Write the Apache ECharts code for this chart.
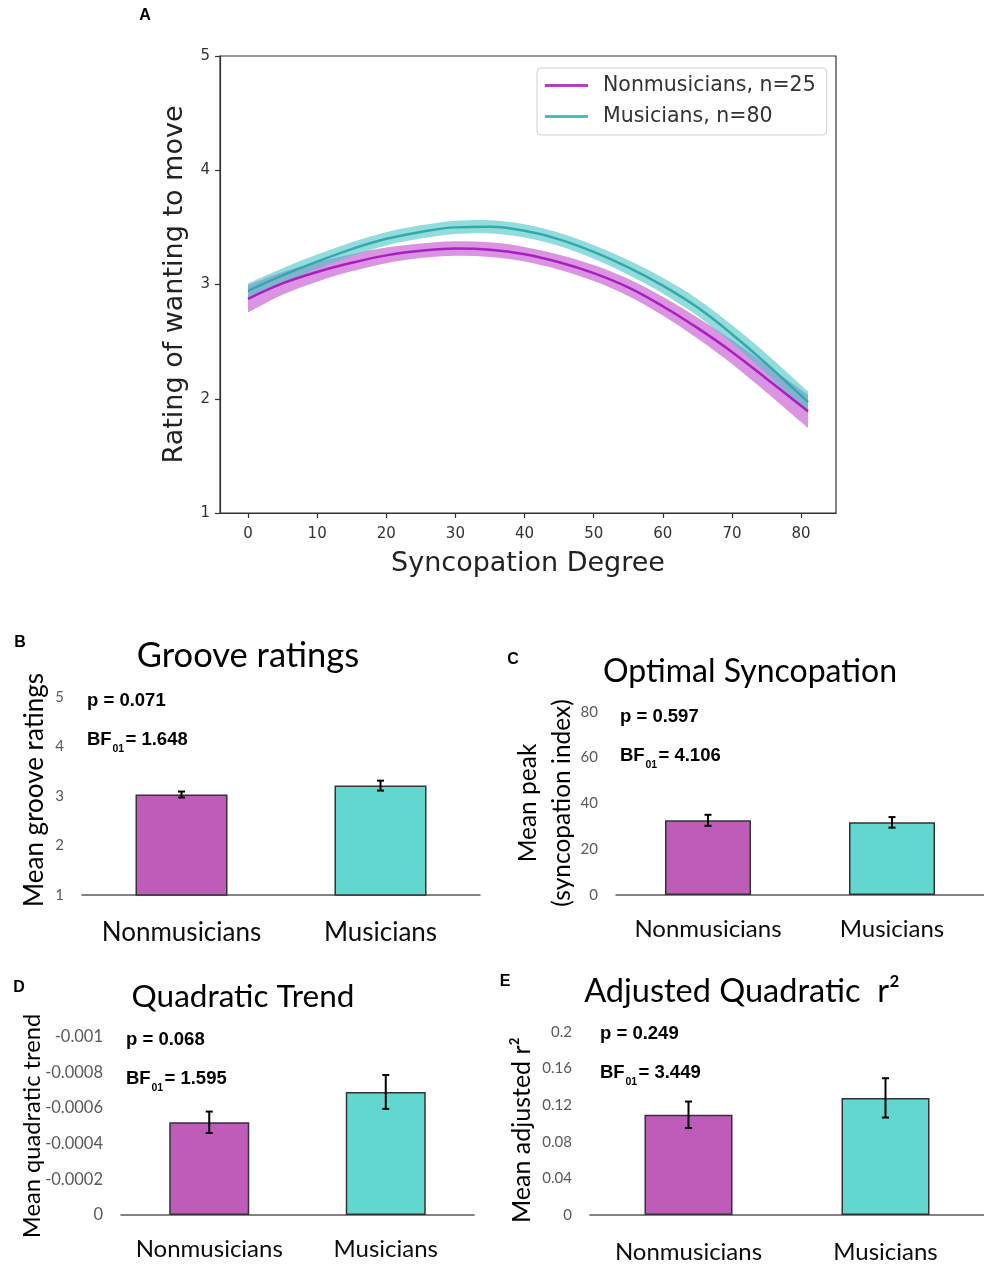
<!DOCTYPE html>
<html><head><meta charset="utf-8">
<script src="https://cdn.jsdelivr.net/npm/echarts@6/dist/echarts.min.js"></script>
<style>html,body{margin:0;padding:0;background:#fff}#c{width:984px;height:1264px}</style>
</head><body><div id="c"></div>
<script>
// ---- Panel A data ----
const syncX  = [0, 5, 10, 15, 20, 25, 30, 35, 40, 45, 50, 55, 60, 65, 70, 75, 81];
const nmMean = [2.875, 3.01, 3.11, 3.19, 3.255, 3.295, 3.315, 3.305, 3.265, 3.195, 3.10, 2.975, 2.81, 2.62, 2.41, 2.175, 1.89];
const nmCI   = [0.12, 0.10, 0.085, 0.075, 0.068, 0.064, 0.064, 0.064, 0.064, 0.066, 0.07, 0.075, 0.082, 0.092, 0.105, 0.12, 0.145];
const muMean = [2.945, 3.08, 3.20, 3.31, 3.40, 3.46, 3.50, 3.505, 3.47, 3.395, 3.285, 3.15, 2.99, 2.80, 2.565, 2.305, 1.97];
const muCI   = [0.065, 0.063, 0.062, 0.06, 0.058, 0.058, 0.058, 0.058, 0.058, 0.058, 0.06, 0.064, 0.068, 0.074, 0.08, 0.087, 0.095];
const xTicks = [0, 10, 20, 30, 40, 50, 60, 70, 80];
const legendNames = ['Nonmusicians, n=25', 'Musicians, n=80'];

// ---- Bar panels ----
const groups = ['Nonmusicians', 'Musicians'];
const grooveMean = [3.03, 3.21];    const grooveErr = [0.06, 0.10];
const peakMean   = [32.6, 31.7];    const peakErr   = [2.4, 2.3];
const quadMean   = [-0.00052, -0.00069]; const quadErr = [0.00006, 0.000095];
const r2Mean     = [0.1095, 0.128]; const r2Err     = [0.0145, 0.0215];
const stats = [
  {p: 'p = 0.071', bf: '= 1.648'},
  {p: 'p = 0.597', bf: '= 4.106'},
  {p: 'p = 0.068', bf: '= 1.595'},
  {p: 'p = 0.249', bf: '= 3.449'}
];

const NM_C = '#bf5bb9', MU_C = '#62d7cf';
const chart = echarts.init(document.getElementById('c'), null, {renderer: 'canvas'});

// Catmull-Rom curve through pixel points -> SVG path segments
function crPath(pts) {
  let d = '';
  for (let i = 0; i < pts.length - 1; i++) {
    const p0 = pts[Math.max(i - 1, 0)], p1 = pts[i], p2 = pts[i + 1], p3 = pts[Math.min(i + 2, pts.length - 1)];
    const c1 = [p1[0] + (p2[0] - p0[0]) / 6, p1[1] + (p2[1] - p0[1]) / 6];
    const c2 = [p2[0] - (p3[0] - p1[0]) / 6, p2[1] - (p3[1] - p1[1]) / 6];
    d += ' C' + c1[0] + ',' + c1[1] + ' ' + c2[0] + ',' + c2[1] + ' ' + p2[0] + ',' + p2[1];
  }
  return d;
}
function band(xs, mean, ci, color, z) {
  return {
    type: 'custom', xAxisIndex: 0, yAxisIndex: 0, silent: true, z: z,
    data: [[xs[0], mean[0]]],
    renderItem: function (params, api) {
      const up = [], lo = [];
      for (let i = 0; i < xs.length; i++) up.push(api.coord([xs[i], mean[i] + ci[i]]));
      for (let i = xs.length - 1; i >= 0; i--) lo.push(api.coord([xs[i], mean[i] - ci[i]]));
      const d = 'M' + up[0][0] + ',' + up[0][1] + crPath(up) + ' L' + lo[0][0] + ',' + lo[0][1] + crPath(lo) + ' Z';
      return {type: 'path', shape: {pathData: d}, style: {fill: color}};
    }
  };
}
function errBars(idx, means, errs) {
  return {
    type: 'custom', xAxisIndex: idx, yAxisIndex: idx, silent: true, z: 5,
    data: means.map((m, i) => [i, m, errs[i]]),
    renderItem: function (params, api) {
      const i = api.value(0), m = api.value(1), e = api.value(2);
      const top = api.coord([i, m + e]), bot = api.coord([i, m - e]);
      const x = top[0], cap = 3.5;
      const st = {stroke: '#000', lineWidth: 2};
      return {type: 'group', children: [
        {type: 'line', shape: {x1: x, y1: top[1], x2: x, y2: bot[1]}, style: st},
        {type: 'line', shape: {x1: x - cap, y1: top[1], x2: x + cap, y2: top[1]}, style: st},
        {type: 'line', shape: {x1: x - cap, y1: bot[1], x2: x + cap, y2: bot[1]}, style: st}
      ]};
    }
  };
}
function bars(idx, means, width) {
  return {
    type: 'bar', xAxisIndex: idx, yAxisIndex: idx, barWidth: width, silent: true,
    data: means.map((v, i) => ({value: v, itemStyle: {color: i === 0 ? NM_C : MU_C}})),
    itemStyle: {borderColor: '#333', borderWidth: 1.5}
  };
}
function catAxis(idx, size, margin) {
  return {
    type: 'category', gridIndex: idx, data: groups,
    axisLine: {show: true, lineStyle: {color: '#595959', width: 1.5}},
    axisTick: {show: false},
    axisLabel: {interval: 0, hideOverlap: false, fontFamily: 'Lato', fontSize: size, color: '#0d0d0d', margin: margin}
  };
}
function valAxis(idx, min, max, interval, inverse, size) {
  return {
    type: 'value', gridIndex: idx, min: min, max: max, interval: interval, inverse: !!inverse,
    axisLine: {show: false}, axisTick: {show: false}, splitLine: {show: false},
    axisLabel: {fontFamily: 'Lato', fontSize: size || 15, color: '#595959', margin: 18,
      formatter: v => String(+(+v).toFixed(4))}
  };
}
function T(x, y, text, size, opt) {
  opt = opt || {};
  return {type: 'text', x: x, y: y, rotation: opt.rot || 0, silent: true,
    style: {text: text, fontSize: size, fontFamily: opt.family || 'Lato', fontWeight: opt.weight || 'normal',
      fill: opt.color || '#000', align: opt.align || 'center', verticalAlign: 'middle'}};
}
function statText(x, y, s) {
  const b = {family: 'Liberation Sans', weight: 'bold', align: 'left'};
  return [
    T(x, y, s.p, 18.5, b),
    T(x, y + 39, 'BF', 18.5, b),
    T(x + 25.5, y + 48, '01', 10.5, b),
    T(x + 38.5, y + 39, s.bf, 18.5, b)
  ];
}

const option = {
  animation: false,
  backgroundColor: '#fff',
  grid: [
    {left: 220, top: 56, width: 616, height: 457, show: true, borderColor: '#333', borderWidth: 1.2, backgroundColor: 'transparent'},
    {left: 82, top: 697, width: 398, height: 198},
    {left: 616, top: 711.7, width: 368, height: 183.3},
    {left: 121, top: 1036.7, width: 353, height: 178.3},
    {left: 590, top: 1032, width: 394, height: 185}
  ],
  xAxis: [
    {type: 'value', gridIndex: 0, min: -4.05, max: 85.05,
      axisLine: {show: true, onZero: false, lineStyle: {color: '#333', width: 1.2}},
      axisTick: {show: true, customValues: xTicks, length: 5, lineStyle: {color: '#333', width: 1.2}},
      axisLabel: {customValues: xTicks, fontFamily: 'DejaVu Sans', fontSize: 15, color: '#333', margin: 14},
      splitLine: {show: false},
      name: 'Syncopation Degree', nameLocation: 'middle', nameGap: 37,
      nameTextStyle: {fontFamily: 'DejaVu Sans', fontSize: 27, color: '#222'}},
    catAxis(1, 26, 25), catAxis(2, 24, 22), catAxis(3, 24, 22), catAxis(4, 24, 25)
  ],
  yAxis: [
    {type: 'value', gridIndex: 0, min: 1, max: 5, interval: 1,
      axisLine: {show: true, onZero: false, lineStyle: {color: '#333', width: 1.2}},
      axisTick: {show: true, length: 5, lineStyle: {color: '#333', width: 1.2}},
      axisLabel: {fontFamily: 'DejaVu Sans', fontSize: 15, color: '#333', margin: 10},
      splitLine: {show: false},
      name: 'Rating of wanting to move', nameLocation: 'middle', nameGap: 32,
      nameTextStyle: {fontFamily: 'DejaVu Sans', fontSize: 27, color: '#222'}},
    valAxis(1, 1, 5, 1),
    valAxis(2, 0, 80, 20),
    valAxis(3, -0.001, 0, 0.0002, true, 16.5),
    valAxis(4, 0, 0.2, 0.04)
  ],
  legend: {
    show: true, orient: 'vertical', left: 537, top: 68,
    data: legendNames, icon: 'rect', itemWidth: 43, itemHeight: 3, itemGap: 8,
    backgroundColor: '#fff', borderColor: '#d0d0d0', borderWidth: 1, borderRadius: 4,
    padding: [6, 11, 7, 8],
    textStyle: {fontFamily: 'DejaVu Sans', fontSize: 20.5, color: '#333', lineHeight: 23, padding: [0, 0, 0, 10]}
  },
  series: [
    band(syncX, nmMean, nmCI, 'rgba(190,60,200,0.55)', 1),
    band(syncX, muMean, muCI, 'rgba(72,196,196,0.6)', 1),
    {type: 'line', name: legendNames[0], xAxisIndex: 0, yAxisIndex: 0, smooth: 0.4, symbol: 'none', z: 3,
      data: syncX.map((x, i) => [x, nmMean[i]]), lineStyle: {color: '#a91fbf', width: 2.5}, itemStyle: {color: '#b23fc8'}},
    {type: 'line', name: legendNames[1], xAxisIndex: 0, yAxisIndex: 0, smooth: 0.4, symbol: 'none', z: 3,
      data: syncX.map((x, i) => [x, muMean[i]]), lineStyle: {color: '#35a9a9', width: 2.5}, itemStyle: {color: '#45c0c0'}},
    bars(1, grooveMean, 92), errBars(1, grooveMean, grooveErr),
    bars(2, peakMean, 86), errBars(2, peakMean, peakErr),
    bars(3, quadMean, 80), errBars(3, quadMean, quadErr),
    bars(4, r2Mean, 88), errBars(4, r2Mean, r2Err)
  ],
  graphic: [
    T(145, 16, 'A', 16, {family: 'Liberation Sans', weight: 'bold'}),
    T(20, 643, 'B', 16, {family: 'Liberation Sans', weight: 'bold'}),
    T(513, 660, 'C', 16, {family: 'Liberation Sans', weight: 'bold'}),
    T(19, 988, 'D', 16, {family: 'Liberation Sans', weight: 'bold'}),
    T(505, 982, 'E', 16, {family: 'Liberation Sans', weight: 'bold'}),
    T(248, 656, 'Groove ratings', 34.5),
    T(750, 672, 'Optimal Syncopation', 32),
    T(243, 997, 'Quadratic Trend', 31.5),
    T(742, 992, 'Adjusted Quadratic  r²', 32.5),
    T(35, 790, 'Mean groove ratings', 26, {rot: Math.PI / 2}),
    T(528, 803, 'Mean peak', 24.5, {rot: Math.PI / 2}),
    T(562, 803, '(syncopation index)', 24.5, {rot: Math.PI / 2}),
    T(32, 1126, 'Mean quadratic trend', 23.7, {rot: Math.PI / 2}),
    T(522, 1130, 'Mean adjusted r²', 25, {rot: Math.PI / 2}),
    ...statText(87, 701, stats[0]),
    ...statText(620, 717, stats[1]),
    ...statText(126, 1040, stats[2]),
    ...statText(600, 1034, stats[3])
  ]
};
chart.setOption(option);
</script></body></html>
